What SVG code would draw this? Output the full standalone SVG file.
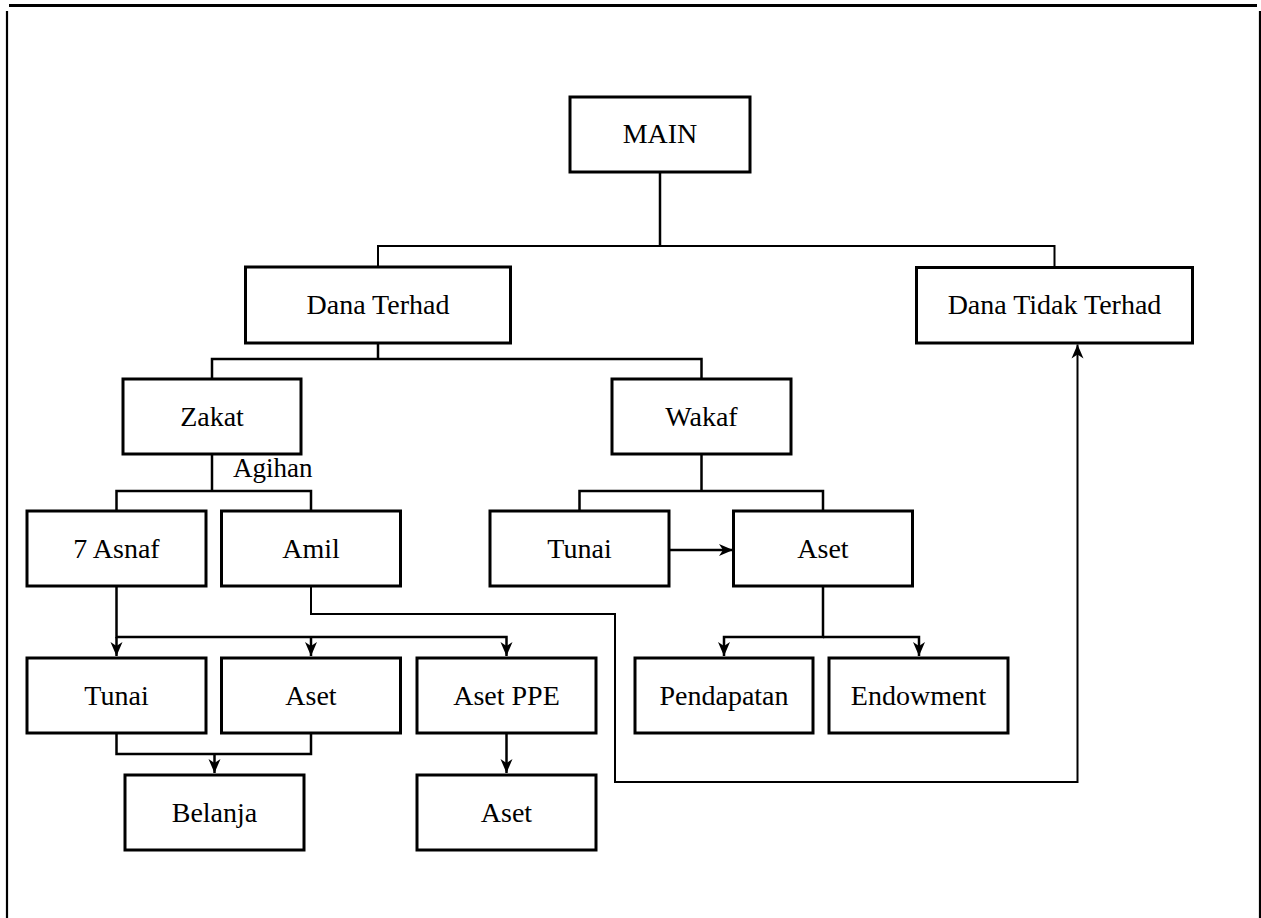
<svg xmlns="http://www.w3.org/2000/svg" width="1261" height="918" viewBox="0 0 1261 918">
  <style>
    .box rect { fill: #ffffff; stroke: #000000; stroke-width: 3; }
    .box text { font-family: "Liberation Serif", "Times New Roman", serif; font-size: 28px; fill: #000000; text-anchor: middle; }
    .wire { fill: none; stroke: #000000; stroke-width: 2.5; }
    .thin { stroke-width: 2; }
    .frame { stroke: #000000; fill: none; }
    .label { font-family: "Liberation Serif", "Times New Roman", serif; font-size: 27px; fill: #000000; }
  </style>
  <defs>
    <marker id="arrow" markerUnits="userSpaceOnUse" markerWidth="15" markerHeight="13" refX="14" refY="6.5" orient="auto">
      <path d="M0,0.5 L14,6.5 L0,12.5 L4,6.5 Z" fill="#000000"/>
    </marker>
  </defs>

  <rect width="1261" height="918" fill="#ffffff"/>

  <!-- page frame -->
  <g id="frame" class="frame">
    <line x1="9" y1="5.5" x2="1257" y2="5.5" stroke-width="3"/>
    <line x1="7" y1="11" x2="7" y2="918" stroke-width="2.2"/>
    <line x1="1260" y1="11" x2="1260" y2="918" stroke-width="2.2"/>
  </g>

  <!-- connectors -->
  <g id="connectors">
    <path class="wire" d="M660,172 V246"/>
    <path class="wire thin" d="M378,267 V246 H1054.5 V267"/>
    <path class="wire" d="M378,343 V359"/>
    <path class="wire" d="M212,379 V359 H701.5 V379"/>
    <path class="wire" d="M212,454 V491"/>
    <path class="wire" d="M116.5,511 V491 H311 V511"/>
    <path class="wire" d="M701.5,454 V491"/>
    <path class="wire" d="M579.5,511 V491 H823 V511"/>
    <path class="wire" d="M669,550 H733" marker-end="url(#arrow)"/>
    <path class="wire" d="M116.5,586 V637 H506.5 V656" marker-end="url(#arrow)"/>
    <path class="wire" d="M116.5,637 V656" marker-end="url(#arrow)"/>
    <path class="wire" d="M311,637 V656" marker-end="url(#arrow)"/>
    <path class="wire thin" d="M311,586 V614 H615 V782 H1077.5 V344.5" marker-end="url(#arrow)"/>
    <path class="wire" d="M823,586 V637 H724 V656" marker-end="url(#arrow)"/>
    <path class="wire" d="M823,637 H919 V656" marker-end="url(#arrow)"/>
    <path class="wire" d="M116.5,733 V754 H311 V733"/>
    <path class="wire" d="M214.5,754 V773" marker-end="url(#arrow)"/>
    <path class="wire" d="M506.5,733 V773" marker-end="url(#arrow)"/>
  </g>

  <text class="label" x="233" y="477">Agihan</text>

  <!-- nodes -->
  <g id="main" class="box"><rect x="570" y="97" width="180" height="75"/><text x="660" y="143">MAIN</text></g>
  <g id="dana-terhad" class="box"><rect x="245.5" y="267" width="265" height="76"/><text x="378" y="314">Dana Terhad</text></g>
  <g id="dana-tidak-terhad" class="box"><rect x="916.5" y="267.5" width="276" height="75.5"/><text x="1054.5" y="314">Dana Tidak Terhad</text></g>
  <g id="zakat" class="box"><rect x="123" y="379" width="178" height="75"/><text x="212" y="426">Zakat</text></g>
  <g id="wakaf" class="box"><rect x="612" y="379" width="179" height="75"/><text x="701.5" y="426">Wakaf</text></g>
  <g id="asnaf" class="box"><rect x="27" y="511" width="179" height="75"/><text x="116.5" y="558">7 Asnaf</text></g>
  <g id="amil" class="box"><rect x="221.5" y="511" width="179" height="75"/><text x="311" y="558">Amil</text></g>
  <g id="wakaf-tunai" class="box"><rect x="490" y="511" width="179" height="75"/><text x="579.5" y="558">Tunai</text></g>
  <g id="wakaf-aset" class="box"><rect x="733.5" y="511" width="179" height="75"/><text x="823" y="558">Aset</text></g>
  <g id="zakat-tunai" class="box"><rect x="27" y="658" width="179" height="75"/><text x="116.5" y="705">Tunai</text></g>
  <g id="zakat-aset" class="box"><rect x="221.5" y="658" width="179" height="75"/><text x="311" y="705">Aset</text></g>
  <g id="aset-ppe" class="box"><rect x="417" y="658" width="179" height="75"/><text x="506.5" y="705">Aset PPE</text></g>
  <g id="pendapatan" class="box"><rect x="635" y="658" width="178" height="75"/><text x="724" y="705">Pendapatan</text></g>
  <g id="endowment" class="box"><rect x="829" y="658" width="179" height="75"/><text x="918.5" y="705">Endowment</text></g>
  <g id="belanja" class="box"><rect x="125" y="775" width="179" height="75"/><text x="214.5" y="822">Belanja</text></g>
  <g id="ppe-aset" class="box"><rect x="417" y="775" width="179" height="75"/><text x="506.5" y="822">Aset</text></g>
</svg>
